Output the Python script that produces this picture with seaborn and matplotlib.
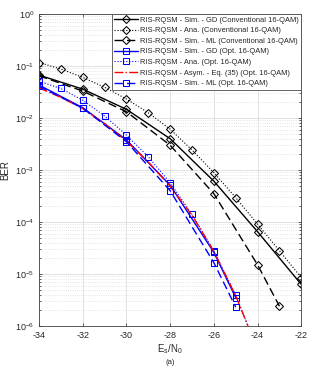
import numpy as np
import matplotlib
matplotlib.use("Agg")
import matplotlib.pyplot as plt
import matplotlib.ticker as mticker
import seaborn as sns

# Data (Es/N0 in dB, BER)
x_gd_conv = [-34, -32, -30, -28, -26, -24, -22]
ber_gd_conv = [0.067, 0.036, 0.0147, 0.0040, 6.1e-4, 6.5e-5, 6.3e-6]

x_ana_conv = [-34, -33, -32, -31, -30, -29, -28, -27, -26, -25, -24, -23, -22]
ber_ana_conv = [0.117, 0.0875, 0.0606, 0.039, 0.0232, 0.0126, 0.0061,
                0.00243, 8.9e-4, 2.94e-4, 9.1e-5, 2.8e-5, 8.5e-6]

x_ml_conv = [-34, -32, -30, -28, -26, -24, -23]
ber_ml_conv = [0.065, 0.033, 0.0132, 0.0030, 3.5e-4, 1.5e-5, 2.4e-6]

x_gd_opt = [-34, -32, -30, -28, -26, -25]
ber_gd_opt = [0.043, 0.0158, 0.0038, 5.1e-4, 2.6e-5, 3.5e-6]

x_ana_opt = [-34, -33, -32, -31, -30, -29, -28, -27, -26, -25, -24]
ber_ana_opt = [0.051, 0.037, 0.022, 0.011, 0.0047, 0.0018, 5.7e-4,
               1.4e-4, 2.8e-5, 3.9e-6, 3.5e-7]

x_asym_opt = [-34, -33, -32, -31, -30, -29, -28, -27, -26, -25, -24]
ber_asym_opt = [0.038, 0.025, 0.0152, 0.0078, 0.0036, 0.00142, 4.9e-4,
                1.35e-4, 2.7e-5, 3.8e-6, 3.5e-7]

x_ml_opt = [-34, -32, -30, -28, -26, -25]
ber_ml_opt = [0.041, 0.0155, 0.0035, 4.0e-4, 1.65e-5, 2.3e-6]

y_ticks = [1e-6, 1e-5, 1e-4, 1e-3, 1e-2, 1e-1, 1e0]

labels = [
    "RIS-RQSM - Sim. - GD (Conventional 16-QAM)",
    "RIS-RQSM - Ana. (Conventional 16-QAM)",
    "RIS-RQSM - Sim. - ML (Conventional 16-QAM)",
    "RIS-RQSM - Sim. - GD (Opt. 16-QAM)",
    "RIS-RQSM - Ana. (Opt. 16-QAM)",
    "RIS-RQSM - Asym. - Eq. (35) (Opt. 16-QAM)",
    "RIS-RQSM - Sim. - ML (Opt. 16-QAM)",
]

sns.set_style("ticks")
plt.rcParams["font.family"] = ["Liberation Sans", "DejaVu Sans"]
plt.rcParams["mathtext.fontset"] = "custom"
plt.rcParams["mathtext.rm"] = "Liberation Sans"
plt.rcParams["mathtext.it"] = "Liberation Sans"
plt.rcParams["axes.unicode_minus"] = False

fig = plt.figure(figsize=(3.13, 3.70), dpi=100)
ax = fig.add_axes([0.1246, 0.119, 0.838, 0.843])

series = [
    (x_gd_conv, ber_gd_conv, "black", "-", "D", 1.0),
    (x_ana_conv, ber_ana_conv, "black", ":", "D", 0.8),
    (x_ml_conv, ber_ml_conv, "black", (0, (6, 3)), "D", 1.0),
    (x_gd_opt, ber_gd_opt, "blue", "-", "s", 1.0),
    (x_ana_opt, ber_ana_opt, "blue", ":", "s", 0.8),
    (x_asym_opt, ber_asym_opt, "red", "-.", None, 1.0),
    (x_ml_opt, ber_ml_opt, "blue", (0, (6, 3)), "s", 1.0),
]

for (xs, ys, col, ls, mk, lw), lab in zip(series, labels):
    kw = {}
    if mk:
        kw = dict(marker=mk, markersize=4.2 if mk == "D" else 4.0,
                  markerfacecolor="none", markeredgecolor=col, markeredgewidth=0.75)
    sns.lineplot(x=xs, y=ys, ax=ax, color=col, linestyle=ls, linewidth=lw,
                 label=lab, sort=False, errorbar=None, **kw)

ax.set_yscale("log")
ax.set_xlim(-34, -22)
ax.set_ylim(1e-6, 1)
ax.set_xticks(np.arange(-34, -21, 2))
ax.yaxis.set_major_locator(mticker.FixedLocator(y_ticks))
ax.yaxis.set_major_formatter(mticker.LogFormatterSciNotation())
minor = [m * t for t in y_ticks[:-1] for m in range(2, 10)]
ax.yaxis.set_minor_locator(mticker.FixedLocator(minor))
ax.yaxis.set_minor_formatter(mticker.NullFormatter())

ax.grid(True, which="major", color="#dcdcdc", linewidth=0.6)
ax.grid(True, which="minor", axis="y", color="#dcdcdc", linestyle=":", linewidth=0.6)
ax.set_axisbelow(True)

ax.tick_params(which="both", direction="in", top=True, right=True,
               labelsize=6.5, length=2.5, width=0.5, colors="0.15")
ax.tick_params(which="minor", length=1.5)
for s in ax.spines.values():
    s.set_linewidth(0.6)
    s.set_color("0.25")

ax.set_ylabel("BER", fontsize=7, labelpad=3)
ax.set_xlabel("E$_\\mathrm{s}$/N$_\\mathrm{0}$", fontsize=7, labelpad=2)
fig.text(0.543, 0.021, "(a)", ha="center", va="center", fontsize=5.5)

leg = ax.legend(loc="upper right", fontsize=5.4, frameon=True, fancybox=False,
                framealpha=1, edgecolor="0.3", borderpad=0.3, labelspacing=0.45,
                handlelength=3.2, handletextpad=0.25, borderaxespad=0)
leg.get_frame().set_linewidth(0.6)

fig.savefig("out.png", dpi=100)
plt.close(fig)
